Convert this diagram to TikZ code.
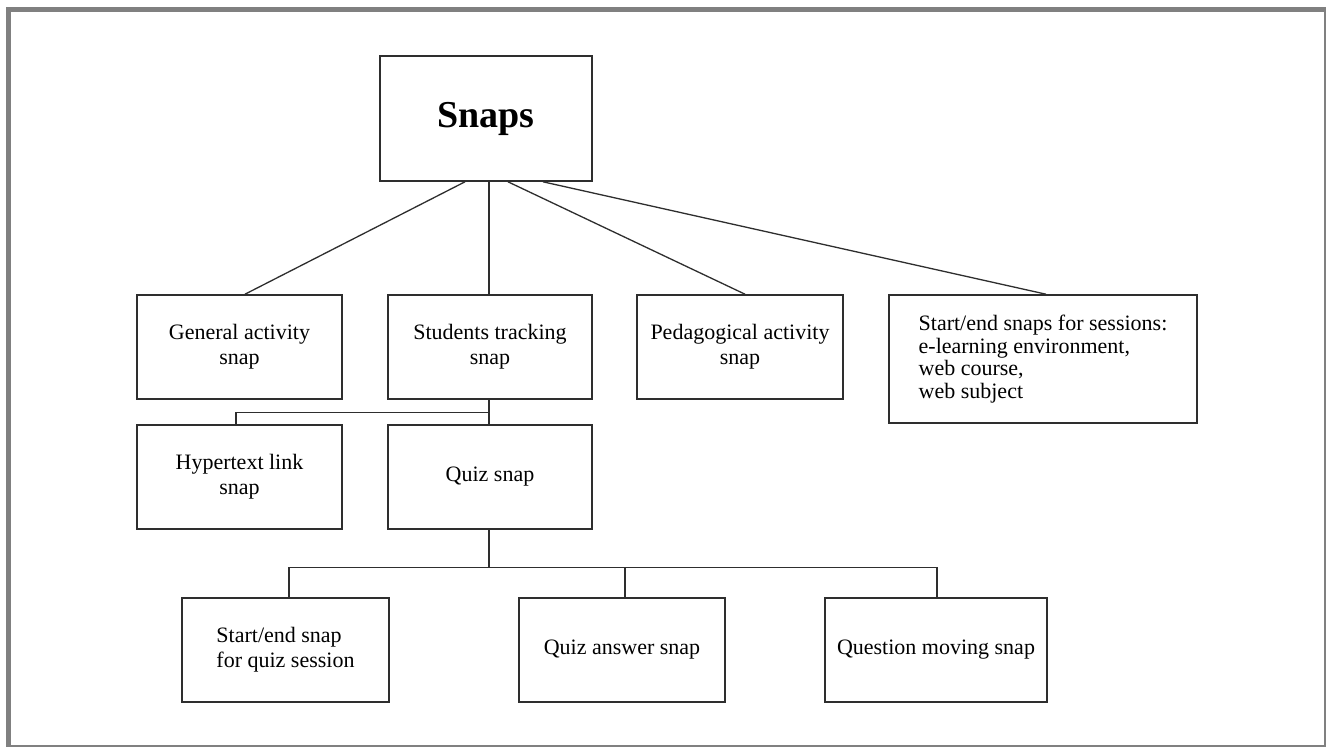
\documentclass[tikz,border=0pt]{standalone}
\usepackage{fontspec}
\setmainfont{Liberation Serif}
\begin{document}
\begin{tikzpicture}[x=1pt,y=-1pt,
  box/.style={draw=black!82, line width=1.6pt, inner sep=0pt, align=center,
    font=\fontsize{22}{25}\selectfont},
  conn/.style={draw=black!82, line width=1.3pt}]
\useasboundingbox (0,0) rectangle (1326,747);
% frame
\fill[gray] (6,7) rectangle (1326,747);
\fill[white] (11,12) rectangle (1324,744.5);
% nodes
\node[box, minimum width=212pt, minimum height=125pt, font=\fontsize{38}{40}\selectfont\bfseries] (snaps) at (486,118.5) {Snaps};
\node[box, minimum width=205pt, minimum height=104pt] (gen) at (239.5,347) {General activity\\snap};
\node[box, minimum width=204pt, minimum height=104pt] (stu) at (490,347) {Students tracking\\snap};
\node[box, minimum width=206pt, minimum height=104pt] (ped) at (740,347) {Pedagogical activity\\snap};
\node[box, minimum width=308pt, minimum height=128pt, align=left, font=\fontsize{22}{22.5}\selectfont] (ses) at (1043,359) {Start/end snaps for sessions:\\e-learning environment,\\web course,\\web subject};
\node[box, minimum width=205pt, minimum height=104pt] (hyp) at (239.5,477) {Hypertext link\\snap};
\node[box, minimum width=204pt, minimum height=104pt] (quiz) at (490,477) {Quiz snap};
\node[box, minimum width=207pt, minimum height=104pt, align=left] (sq) at (285.5,650) {Start/end snap\\for quiz session};
\node[box, minimum width=206pt, minimum height=104pt] (qa) at (622,650) {Quiz answer snap};
\node[box, minimum width=222pt, minimum height=104pt] (qm) at (936,650) {Question moving snap};
% connectors
\draw[conn] ([xshift=-21pt]snaps.south) -- ([xshift=5.5pt]gen.north);
\draw[conn] ([xshift=-1pt]stu.north |- snaps.south) -- ([xshift=-1pt]stu.north);
\draw[conn] ([xshift=22pt]snaps.south) -- ([xshift=5pt]ped.north);
\draw[conn] ([xshift=57pt]snaps.south) -- ([xshift=3pt]ses.north);
\coordinate (b1) at ([xshift=-1pt,yshift=-13pt]stu.south);
\draw[conn] ([xshift=-1pt]stu.south) -- ([xshift=-1pt]quiz.north);
\draw[conn] (b1) -| ([xshift=-3.5pt]hyp.north);
\coordinate (b2) at ([xshift=-1pt,yshift=-38pt]quiz.south);
\draw[conn] ([xshift=-1pt]quiz.south) -- (b2);
\draw[conn] ([xshift=3.5pt]sq.north) |- ([xshift=1pt]qm.north |- b2) -- ([xshift=1pt]qm.north);
\draw[conn] ([xshift=3pt]qa.north |- b2) -- ([xshift=3pt]qa.north);
\end{tikzpicture}
\end{document}
